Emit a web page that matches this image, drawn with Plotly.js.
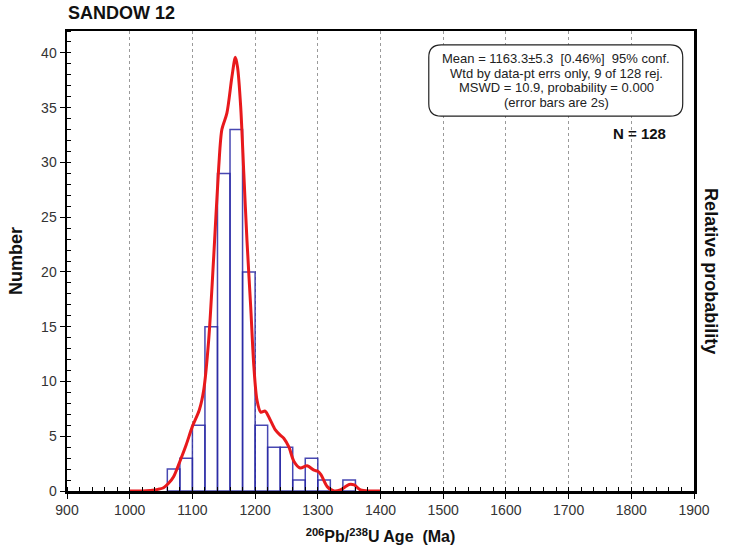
<!DOCTYPE html>
<html>
<head>
<meta charset="utf-8">
<script src="https://cdn.plot.ly/plotly-3.0.1.min.js"></script>
<style>html,body{margin:0;padding:0;background:#fff;}#chart{width:734px;height:556px;}</style>
</head>
<body>
<div id="chart"></div>
<script>
// Histogram bins (Ma) – bin centres, 20 Ma wide
var binCenters = [1070, 1090, 1110, 1130, 1150, 1170, 1190, 1210, 1230, 1250, 1270, 1290, 1310, 1330, 1350];
var binCounts  = [2, 3, 6, 15, 29, 33, 20, 6, 4, 4, 1, 3, 1, 0, 1];

// Relative probability curve (scaled to Number axis)
var probAge = [1000, 1020, 1033, 1045, 1054, 1062, 1070, 1080, 1090, 1100, 1111, 1118, 1126, 1134, 1142, 1147, 1155, 1163, 1168.5, 1172, 1177, 1182, 1187, 1193, 1198, 1203, 1209, 1216, 1224, 1232, 1240, 1246, 1254, 1262, 1272, 1283, 1294, 1300, 1305, 1315, 1326, 1336, 1343, 1350, 1358, 1368, 1384, 1400];
var probVal = [0, 0, 0.05, 0.15, 0.3, 0.7, 1.3, 2.7, 4.2, 5.9, 7.4, 9.2, 13.8, 21.4, 29.6, 33, 34.5, 37.8, 39.6, 38.7, 35.1, 29, 22.9, 16.8, 11.4, 8.3, 7.2, 7.3, 6.5, 5.6, 5.1, 4.8, 4.0, 2.7, 2.1, 2.3, 1.9, 1.8, 1.5, 0.4, 0.0, 0.1, 0.35, 0.6, 0.55, 0.1, 0, 0];

var xTicks = [900, 1000, 1100, 1200, 1300, 1400, 1500, 1600, 1700, 1800, 1900];
var yTicks = [0, 5, 10, 15, 20, 25, 30, 35, 40];

var statsLines = [
  "Mean = 1163.3±5.3  [0.46%]  95% conf.",
  "Wtd by data-pt errs only, 9 of 128 rej.",
  "MSWD = 10.9, probability = 0.000",
  "(error bars are 2s)"
];
var titleText = "SANDOW 12";
var nText = "N = 128";

var FONT = "Liberation Sans, Arial, sans-serif";

var traces = [
  {
    type: 'bar',
    x: binCenters,
    y: binCounts,
    width: 20,
    marker: {color: 'rgba(0,0,0,0)', line: {color: 'rgba(40,40,165,0.85)', width: 1.5}},
    hoverinfo: 'skip'
  },
  {
    type: 'scatter',
    mode: 'lines',
    x: probAge,
    y: probVal,
    line: {color: '#e8191c', width: 3, shape: 'spline', smoothing: 0.8},
    hoverinfo: 'skip'
  }
];

function roundedRect(x0, y0, x1, y1, rx, ry) {
  return 'M ' + (x0 + rx) + ' ' + y0 +
    ' L ' + (x1 - rx) + ' ' + y0 +
    ' Q ' + x1 + ' ' + y0 + ' ' + x1 + ' ' + (y0 + ry) +
    ' L ' + x1 + ' ' + (y1 - ry) +
    ' Q ' + x1 + ' ' + y1 + ' ' + (x1 - rx) + ' ' + y1 +
    ' L ' + (x0 + rx) + ' ' + y1 +
    ' Q ' + x0 + ' ' + y1 + ' ' + x0 + ' ' + (y1 - ry) +
    ' L ' + x0 + ' ' + (y0 + ry) +
    ' Q ' + x0 + ' ' + y0 + ' ' + (x0 + rx) + ' ' + y0 + ' Z';
}

var annotations = [
  {xref: 'paper', yref: 'paper', x: -0.002, y: 1.0, yshift: 6, xanchor: 'left', yanchor: 'bottom',
   text: '<b>' + titleText + '</b>', showarrow: false, font: {family: FONT, size: 18, color: '#111'}},
  {xref: 'paper', yref: 'paper', x: 0.958, y: 0.778, xanchor: 'right', yanchor: 'middle',
   text: '<b>' + nText + '</b>', showarrow: false, font: {family: FONT, size: 15, color: '#111'}},
  {xref: 'paper', yref: 'paper', x: 1.0, xshift: 17, y: 0.478, xanchor: 'center', yanchor: 'middle',
   text: '<b>Relative probability</b>', textangle: 90, showarrow: false,
   font: {family: FONT, size: 18, color: '#111'}}
];
var lineY = [58, 73, 87.5, 102];
statsLines.forEach(function (s, i) {
  annotations.push({xref: 'paper', yref: 'paper', x: 0.78, y: (491 - lineY[i]) / 460,
    xanchor: 'center', yanchor: 'middle', text: s, showarrow: false,
    font: {family: FONT, size: 13, color: '#222'}});
});

var layout = {
  width: 734, height: 556,
  margin: {l: 67, r: 40, t: 31, b: 65},
  paper_bgcolor: '#fff', plot_bgcolor: '#fff',
  showlegend: false,
  font: {family: FONT, color: '#222', size: 14},
  xaxis: {
    range: [900, 1900],
    tickmode: 'array', tickvals: xTicks, ticktext: xTicks.map(String),
    ticks: 'outside', ticklen: 5, tickwidth: 1, tickcolor: '#000',
    minor: {dtick: 20, tick0: 900, ticks: 'inside', ticklen: 4, tickcolor: '#000', showgrid: false},
    showgrid: true, gridcolor: '#9a9a9a', griddash: 'dot', gridwidth: 1,
    showline: true, linecolor: '#000', linewidth: 2.5, mirror: true,
    zeroline: false,
    tickfont: {family: FONT, size: 14, color: '#333'},
    title: {text: '<sup>206</sup>Pb/<sup>238</sup>U Age  (Ma)', font: {family: FONT, size: 16, color: '#111', weight: 'bold'}, standoff: 14}
  },
  yaxis: {
    range: [0, 42],
    tickmode: 'array', tickvals: yTicks, ticktext: yTicks.map(String),
    ticks: 'outside', ticklen: 5, tickwidth: 1, tickcolor: '#000',
    minor: {dtick: 1, tick0: 0, ticks: 'inside', ticklen: 4, tickcolor: '#000', showgrid: false},
    showgrid: false,
    showline: true, linecolor: '#000', linewidth: 2.5, mirror: true,
    zeroline: false,
    tickfont: {family: FONT, size: 14, color: '#333'},
    title: {text: 'Number', font: {family: FONT, size: 18, color: '#111', weight: 'bold'}, standoff: 14}
  },
  shapes: [
    {type: 'path', xref: 'paper', yref: 'paper', layer: 'above',
     path: roundedRect(0.577, 0.815, 0.982, 0.970, 0.02, 0.027),
     fillcolor: '#fff', line: {color: '#222', width: 1.2}}
  ],
  annotations: annotations
};

Plotly.newPlot('chart', traces, layout, {displayModeBar: false, staticPlot: true});
</script>
</body>
</html>
